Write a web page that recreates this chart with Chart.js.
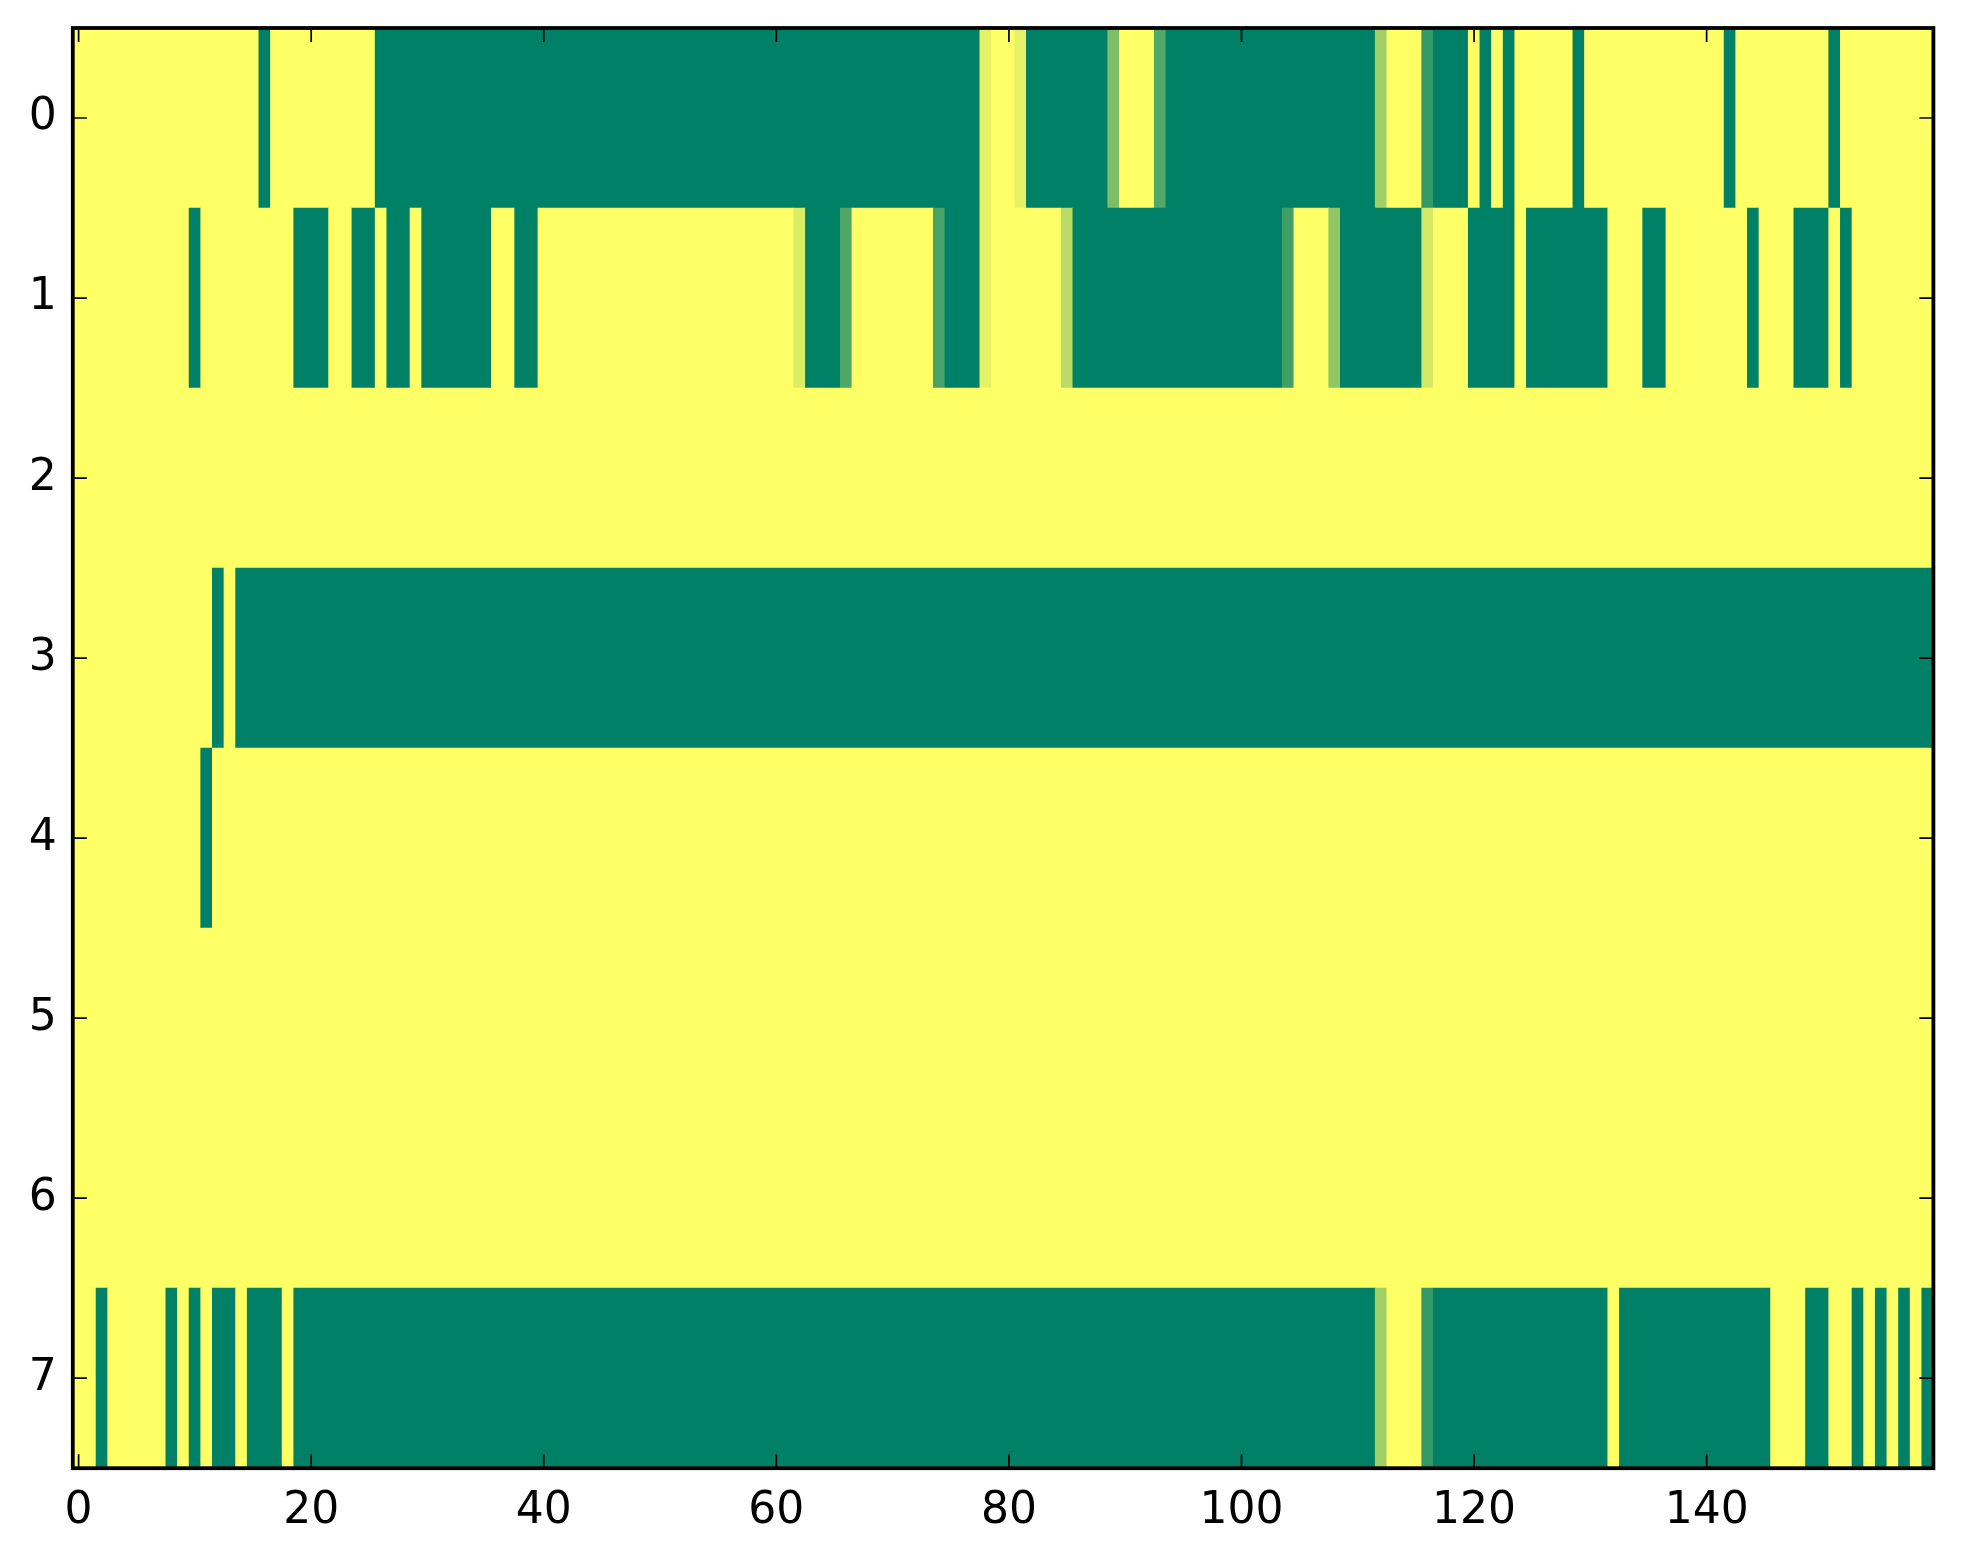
<!DOCTYPE html>
<html>
<head>
<meta charset="utf-8">
<script src="https://cdn.jsdelivr.net/npm/chart.js@4.4.0/dist/chart.umd.min.js"></script>
<style>
  html, body { margin: 0; padding: 0; background: #fff; }
  #wrap { width: 1963px; height: 1564px; }
</style>
</head>
<body>
<div id="wrap"><canvas id="heat" width="1963" height="1564"></canvas></div>
<script>
// =====================
// DATA (each row as runs of [value, count], left to right, 160 columns)
// =====================
const row0 = [[1,16],[0,1],[1,9],[0,52],[0.9,1],[1,2],[0.9,1],[0,7],[0.49,1],[1,3],[0.32,1],[0,18],
              [0.63,1],[1,3],[0.2,1],[0,3],[1,1],[0,1],[1,1],[0,1],[1,5],[0,1],[1,12],[0,1],[1,8],[0,1],[1,8]];
const row1 = [[1,10],[0,1],[1,8],[0,3],[1,2],[0,2],[1,1],[0,2],[1,1],[0,6],[1,2],[0,2],[1,22],[0.86,1],
              [0,3],[0.31,1],[1,7],[0.28,1],[0,3],[0.9,1],[1,6],[0.72,1],[0,18],[0.25,1],[1,3],[0.56,1],
              [0,7],[0.83,1],[1,3],[0,4],[1,1],[0,7],[1,3],[0,2],[1,7],[0,1],[1,3],[0,3],[1,1],[0,1],[1,7]];
const row2 = [[1,160]];
const row3 = [[1,12],[0,1],[1,1],[0,146]];
const row4 = [[1,11],[0,1],[1,148]];
const row5 = [[1,160]];
const row6 = [[1,160]];
const row7 = [[1,2],[0,1],[1,5],[0,1],[1,1],[0,1],[1,1],[0,2],[1,1],[0,3],[1,1],[0,93],[0.63,1],[1,3],
              [0.2,1],[0,15],[1,1],[0,13],[1,3],[0,2],[1,2],[0,1],[1,1],[0,1],[1,1],[0,1],[1,1],[0,1]];

const rowTicks = [0, 1, 2, 3, 4, 5, 6, 7];
const colTicks = [0, 20, 40, 60, 80, 100, 120, 140];
const nCols = 160;

// =====================
// COLORMAP (matplotlib "summer")
// =====================
function summer(v) {
  const r = Math.round(255 * v);
  const g = Math.round(255 * (0.5 + 0.5 * v));
  const b = Math.round(255 * 0.4);
  return `rgb(${r},${g},${b})`;
}

// =====================
// BUILD BARS
// =====================
const rows = [row0, row1, row2, row3, row4, row5, row6, row7];
let bars = [];
let colors = [];

rows.forEach((runs, r) => {
  let c = 0;
  runs.forEach(([v, n]) => {
    bars.push({ x: [c - 0.5, c + n - 0.5], y: r });
    colors.push(summer(v));
    c += n;
  });
  if (c !== nCols) console.log('row ' + r + ' has ' + c + ' columns');
});

// =====================
// FRAME + INWARD TICKS
// =====================
const frame = {
  id: 'frame',
  afterDraw(chart) {
    const { ctx, chartArea: a } = chart;
    const x = chart.scales.x, y = chart.scales.y;
    const tl = 14;
    ctx.save();
    ctx.strokeStyle = '#000';
    ctx.lineWidth = 1.7;
    ctx.beginPath();
    colTicks.forEach(v => {
      const px = x.getPixelForValue(v);
      ctx.moveTo(px, a.bottom); ctx.lineTo(px, a.bottom - tl);
      ctx.moveTo(px, a.top); ctx.lineTo(px, a.top + tl);
    });
    rowTicks.forEach(v => {
      const py = y.getPixelForValue(v);
      ctx.moveTo(a.left, py); ctx.lineTo(a.left + tl, py);
      ctx.moveTo(a.right, py); ctx.lineTo(a.right - tl, py);
    });
    ctx.stroke();
    ctx.lineWidth = 3.8;
    ctx.strokeRect(a.left, a.top, a.right - a.left, a.bottom - a.top);
    ctx.restore();
  }
};

const tickFont = { family: 'DejaVu Sans', size: 44 };

new Chart(document.getElementById('heat'), {
  type: 'bar',
  data: {
    datasets: [{
      data: bars,
      backgroundColor: colors,
      borderWidth: 0,
      barPercentage: 1,
      categoryPercentage: 1
    }]
  },
  options: {
    indexAxis: 'y',
    responsive: false,
    animation: false,
    layout: { padding: { top: 28, right: 29.6, left: 0, bottom: 0 } },
    plugins: { legend: { display: false }, tooltip: { enabled: false } },
    scales: {
      x: {
        type: 'linear',
        min: -0.5,
        max: nCols - 0.5,
        offset: false,
        grid: { display: false, drawTicks: false },
        border: { display: false },
        ticks: { font: tickFont, color: '#000', padding: 17, autoSkip: false, maxRotation: 0 },
        afterBuildTicks: s => { s.ticks = colTicks.map(v => ({ value: v })); },
        afterFit: s => { s.height = 95.8; s.paddingLeft = 0; s.paddingRight = 0; }
      },
      y: {
        type: 'linear',
        reverse: true,
        min: -0.5,
        max: 7.5,
        offset: false,
        grid: { display: false, drawTicks: false },
        border: { display: false },
        ticks: { font: tickFont, color: '#000', padding: 16, autoSkip: false },
        afterBuildTicks: s => { s.ticks = rowTicks.map(v => ({ value: v })); },
        afterFit: s => { s.width = 72.8; s.paddingTop = 0; s.paddingBottom = 0; }
      }
    }
  },
  plugins: [frame]
});
</script>
</body>
</html>
